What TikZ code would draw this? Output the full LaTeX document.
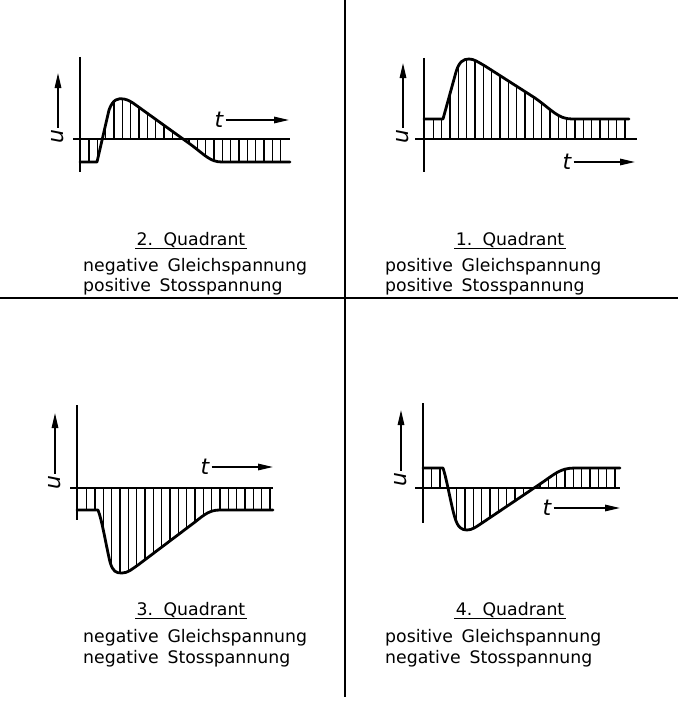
\documentclass[tikz,border=0pt]{standalone}
\usepackage{fontspec}
\setmainfont{DejaVu Sans}
\usetikzlibrary{arrows.meta}
\begin{document}
\begin{tikzpicture}[x=1pt,y=-1pt,
  curve/.style={line width=2.8pt, line join=round, line cap=round},
  axis/.style={line width=2pt},
  hatch/.style={line width=1.3pt},
  divider/.style={line width=1.8pt},
  arr/.style={line width=1.5pt, -{Triangle[length=15pt,width=6.5pt]}},
  lbl/.style={font=\fontsize{17.3}{20}\selectfont, inner sep=0pt, anchor=base west},
  ttl/.style={font=\fontsize{17.3}{20}\selectfont, inner sep=1.5pt, anchor=base},
  var/.style={font=\fontsize{22}{24}\selectfont\itshape, inner sep=2pt}
]
\useasboundingbox (0,0) rectangle (678,701);

% dividers
\coordinate (vt) at (345,0); \coordinate (vb) at (345,697);
\coordinate (hl) at (0,298); \coordinate (hr) at (678,298);
\draw[divider] (vt) -- (vb);
\draw[divider] (hl) -- (hr);

%%%%% Quadrant 2 (top left)
\begin{scope}
\clip (80,139) -- (80,162) -- (97,162) -- (109,110) .. controls (113,99) and (118,98) .. (124,99)
  .. controls (128,100) and (130,101) .. (133,103) -- (190,144) .. controls (205,155) and (210,162) .. (222,162)
  -- (290,162) -- (290,139) -- cycle;
\foreach \x in {89,97.33,...,282} \draw[hatch] (\x,90) -- (\x,170);
\end{scope}
\draw[axis] (80,57) -- (80,172);
\draw[axis] (73,139) -- (290,139);
\draw[curve] (80,162) -- (97,162) -- (109,110) .. controls (113,99) and (118,98) .. (124,99)
  .. controls (128,100) and (130,101) .. (133,103) -- (190,144) .. controls (205,155) and (210,162) .. (222,162)
  -- (290,162);
\node[var, rotate=90] (u2) at (58,137) {u};
\coordinate (u2e) at (58,73);
\draw[arr] (u2) -- (u2e);
\node[var] (t2) at (219,120) {t};
\coordinate (t2e) at (289,120);
\draw[arr] (t2) -- (t2e);

%%%%% Quadrant 1 (top right)
\begin{scope}
\clip (424,139) -- (424,119) -- (443,119) -- (456,72) .. controls (459,62) and (463,59) .. (469,59)
  .. controls (474,59) and (478,62) .. (485,66) -- (535,98) .. controls (552,110) and (558,119) .. (572,119)
  -- (629,119) -- (629,139) -- cycle;
\foreach \x in {433.3,441.63,...,627} \draw[hatch] (\x,50) -- (\x,145);
\end{scope}
\draw[axis] (424,58) -- (424,172);
\draw[axis] (415,139) -- (637,139);
\draw[curve] (424,119) -- (443,119) -- (456,72) .. controls (459,62) and (463,59) .. (469,59)
  .. controls (474,59) and (478,62) .. (485,66) -- (535,98) .. controls (552,110) and (558,119) .. (572,119)
  -- (629,119);
\node[var, rotate=90] (u1) at (403,137) {u};
\coordinate (u1e) at (403,63);
\draw[arr] (u1) -- (u1e);
\node[var] (t1) at (567,162) {t};
\coordinate (t1e) at (635,162);
\draw[arr] (t1) -- (t1e);

%%%%% Quadrant 3 (bottom left)
\begin{scope}
\clip (77,488) -- (77,510) -- (98,510) .. controls (102,520) and (106,545) .. (110,562)
  .. controls (113,572) and (116,573) .. (122,573) .. controls (128,573) and (132,569) .. (138,565)
  -- (195,522) .. controls (205,514) and (210,510) .. (220,510) -- (273,510) -- (273,488) -- cycle;
\foreach \x in {86.7,95.03,...,271} \draw[hatch] (\x,480) -- (\x,580);
\end{scope}
\draw[axis] (77,405) -- (77,520);
\draw[axis] (70,488) -- (273,488);
\draw[curve] (77,510) -- (98,510) .. controls (102,520) and (106,545) .. (110,562)
  .. controls (113,572) and (116,573) .. (122,573) .. controls (128,573) and (132,569) .. (138,565)
  -- (195,522) .. controls (205,514) and (210,510) .. (220,510) -- (273,510);
\node[var, rotate=90] (u3) at (55,483) {u};
\coordinate (u3e) at (55,413);
\draw[arr] (u3) -- (u3e);
\node[var] (t3) at (205,467) {t};
\coordinate (t3e) at (273,467);
\draw[arr] (t3) -- (t3e);

%%%%% Quadrant 4 (bottom right)
\begin{scope}
\clip (423,488) -- (423,468) -- (443,468) .. controls (447,480) and (451,505) .. (455,518)
  .. controls (458,528) and (462,530) .. (467,530) .. controls (472,530) and (476,527) .. (482,523)
  -- (540,484) .. controls (555,474) and (560,468) .. (575,468) -- (620,468) -- (620,488) -- cycle;
\foreach \x in {431.7,440.03,...,618} \draw[hatch] (\x,460) -- (\x,540);
\end{scope}
\draw[axis] (423,403) -- (423,523);
\draw[axis] (415,488) -- (620,488);
\draw[curve] (423,468) -- (443,468) .. controls (447,480) and (451,505) .. (455,518)
  .. controls (458,528) and (462,530) .. (467,530) .. controls (472,530) and (476,527) .. (482,523)
  -- (540,484) .. controls (555,474) and (560,468) .. (575,468) -- (620,468);
\node[var, rotate=90] (u4) at (401,480) {u};
\coordinate (u4e) at (401,410);
\draw[arr] (u4) -- (u4e);
\node[var] (t4) at (547,508) {t};
\coordinate (t4e) at (620,508);
\draw[arr] (t4) -- (t4e);

%%%%% Texts
\node[ttl] (q2) at (191,245) {2.\hspace{0.6em}Quadrant};
\draw[line width=1.1pt] (q2.south west) -- (q2.south east);
\node[lbl] (q2a) at (83,271) {negative\hspace{0.5em}Gleichspannung};
\node[lbl] (q2b) at (83,291) {positive\hspace{0.5em}Stosspannung};

\node[ttl] (q1) at (510,245) {1.\hspace{0.6em}Quadrant};
\draw[line width=1.1pt] (q1.south west) -- (q1.south east);
\node[lbl] (q1a) at (385,271) {positive\hspace{0.5em}Gleichspannung};
\node[lbl] (q1b) at (385,291) {positive\hspace{0.5em}Stosspannung};

\node[ttl] (q3) at (191,615) {3.\hspace{0.6em}Quadrant};
\draw[line width=1.1pt] (q3.south west) -- (q3.south east);
\node[lbl] (q3a) at (83,642) {negative\hspace{0.5em}Gleichspannung};
\node[lbl] (q3b) at (83,663) {negative\hspace{0.5em}Stosspannung};

\node[ttl] (q4) at (510,615) {4.\hspace{0.6em}Quadrant};
\draw[line width=1.1pt] (q4.south west) -- (q4.south east);
\node[lbl] (q4a) at (385,642) {positive\hspace{0.5em}Gleichspannung};
\node[lbl] (q4b) at (385,663) {negative\hspace{0.5em}Stosspannung};
\end{tikzpicture}
\end{document}
